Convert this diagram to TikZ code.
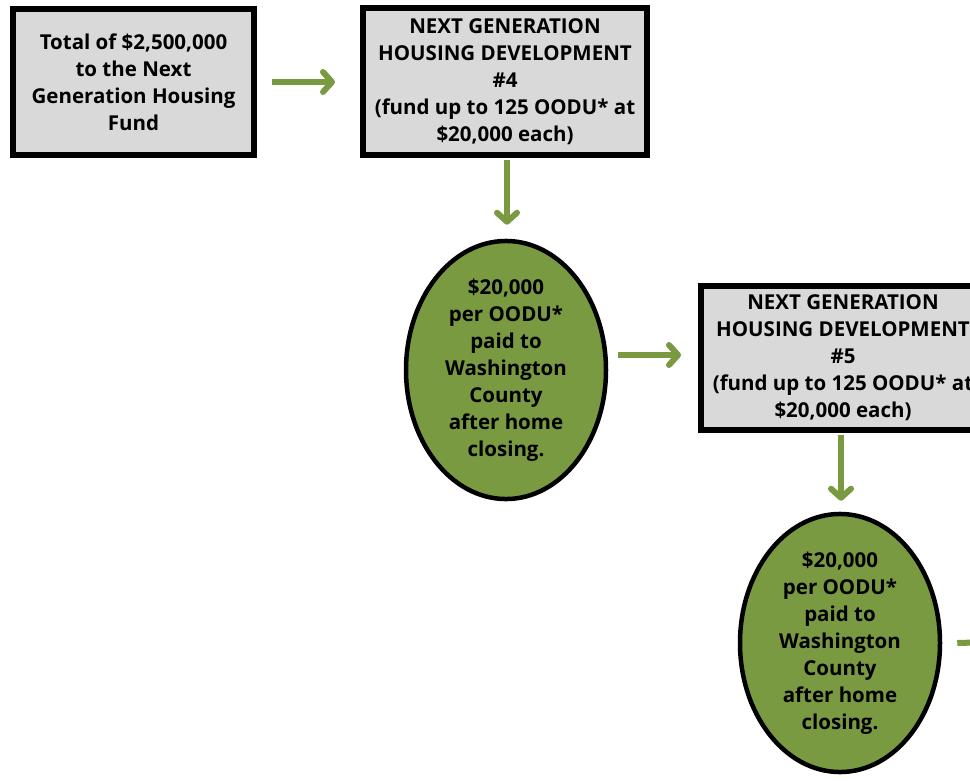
\documentclass[tikz,border=0pt]{standalone}
\usepackage{fontspec}
\setmainfont{Open Sans}
\usetikzlibrary{shapes.geometric,arrows.meta}
\definecolor{grn}{HTML}{7A9A42}
\definecolor{boxgray}{HTML}{D9D9D9}
\tikzset{
  gbox/.style={draw=black, line width=6pt, fill=boxgray, rectangle, inner sep=0pt,
    minimum width=284pt, minimum height=147pt, align=center,
    font=\bfseries\fontsize{20.5}{27}\selectfont},
  gell/.style={draw=black, line width=4.5pt, fill=grn, ellipse, inner sep=0pt,
    minimum width=200pt, minimum height=240pt, align=center,
    font=\bfseries\fontsize{20.5}{27}\selectfont},
  garrow/.style={draw=grn, line width=6pt, -{Straight Barb[round,length=9pt,width=20pt]}}
}
\begin{document}
\begin{tikzpicture}[x=1pt,y=-1pt]
\useasboundingbox (0,0) rectangle (970,780);
\clip (0,0) rectangle (970,780);
\fill[white] (0,0) rectangle (970,780);
\node[gbox, minimum width=241pt, minimum height=146pt] (b1) at (133.5,82) {Total of \$2,500,000\\to the Next\\Generation Housing\\Fund};
\node[gbox] (b2) at (505,81.5) {NEXT GENERATION\\HOUSING DEVELOPMENT\\\#4\\(fund up to 125 OODU* at\\\$20,000 each)};
\node[gell] (e1) at (506,370) {\$20,000\\per OODU*\\paid to\\Washington\\County\\after home\\closing.};
\node[gbox, minimum height=144pt] (b3) at (843,358) {NEXT GENERATION\\HOUSING DEVELOPMENT\\\#5\\(fund up to 125 OODU* at\\\$20,000 each)};
\node[gell] (e2) at (840,643) {\$20,000\\per OODU*\\paid to\\Washington\\County\\after home\\closing.};
\coordinate (free) at (1030,641);
\draw[garrow] ([xshift=15pt]b1.east) -- ([xshift=-25pt]b1.east -| b2.west);
\draw[garrow] ([xshift=2pt,yshift=-2pt]b2.south) -- ([xshift=2pt,yshift=14pt]b2.south |- e1.north);
\draw[garrow] ([xshift=10pt]e1.east |- 0,355) -- ([xshift=-17pt]b3.west |- 0,355);
\draw[garrow] ([xshift=-2pt,yshift=-2pt]b3.south) -- ([xshift=-2pt,yshift=11pt]b3.south |- e2.north);
\draw[garrow] ([xshift=15pt]e2.east) -- (free);
\end{tikzpicture}
\end{document}
